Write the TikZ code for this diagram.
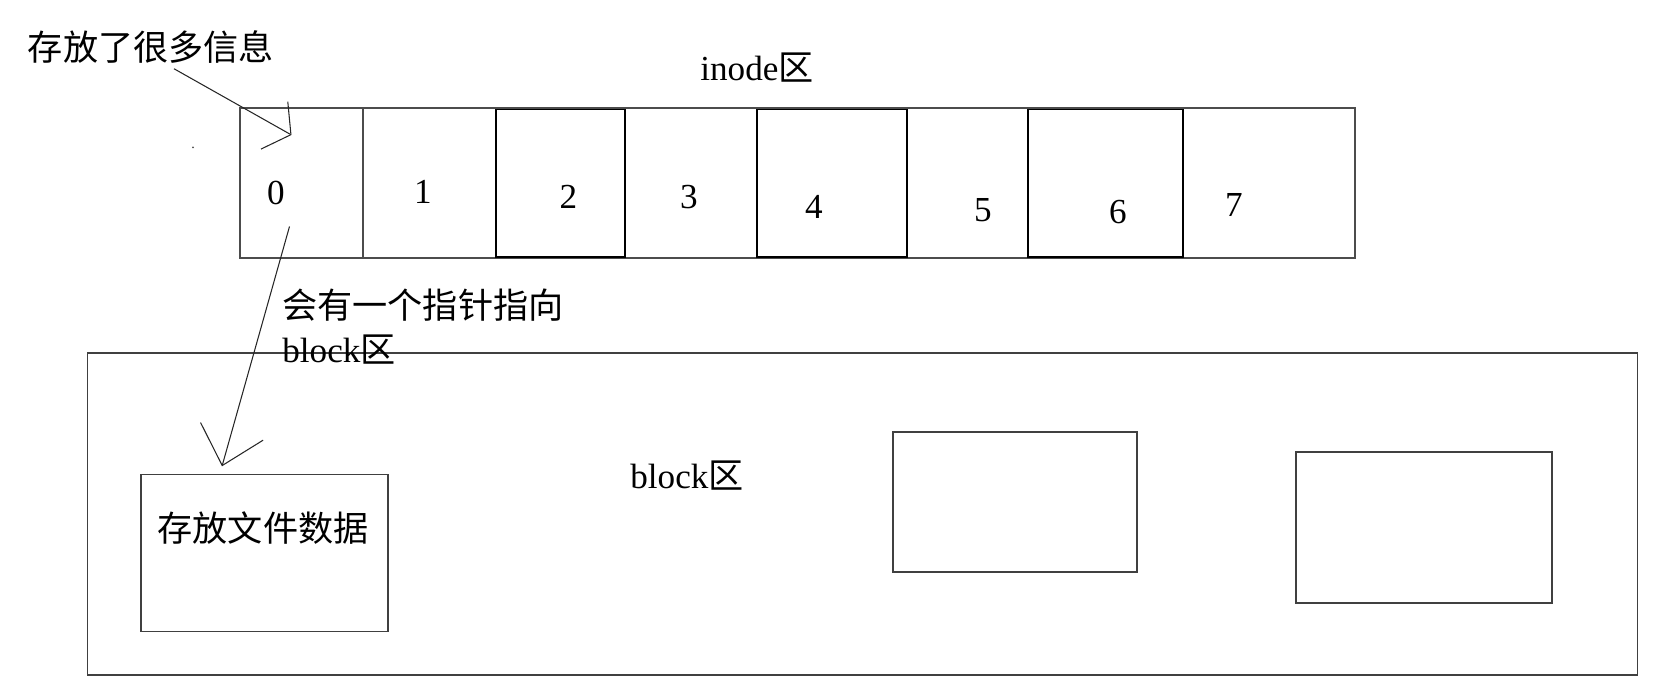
\documentclass[tikz,border=0pt]{standalone}
\usepackage{fontspec}
\setmainfont{Liberation Serif}
\newfontfamily\cjk{Noto Sans CJK SC}
\usetikzlibrary{arrows.meta}

\begin{document}
\begin{tikzpicture}[every node/.style={inner sep=0pt,font=\fontsize{20}{24}\selectfont},
    box/.style={draw=black!75,line width=0.8pt}]
    \useasboundingbox (0,0) rectangle (33.06,13.66);

    % inode row
    \begin{scope}[line width=0.8pt,color=black!70]
      \draw (4.80,8.50) rectangle (27.10,11.50);
      \foreach \x in {7.26,9.92,12.50,15.14,18.14,20.56,23.66}
        \draw (\x,8.50) -- (\x,11.50);
    \end{scope}
    \begin{scope}[line width=1pt,color=black]
      \draw (9.92,8.52) rectangle (12.50,11.47);
      \draw (15.14,8.52) rectangle (18.14,11.47);
      \draw (20.56,8.52) rectangle (23.66,11.47);
    \end{scope}

    \begin{scope}[every node/.style={inner sep=0pt,font=\fontsize{20}{24}\selectfont}]
      \foreach \n/\x/\y in {0/5.52/9.80, 1/8.46/9.82, 2/11.37/9.73, 3/13.78/9.72,
                            4/16.28/9.52, 5/19.66/9.46, 6/22.36/9.42, 7/24.68/9.56}
        \node (d\n) at (\x,\y) {\n};
    \end{scope}

    \node (inode) at (15.14,12.30) {inode{\cjk 区}};
    \node (info) at (3.02,12.72) {\cjk 存放了很多信息};
    \fill[black!70] (3.86,10.71) circle (0.02);

    % block area
    \node[box,minimum width=30.99cm,minimum height=6.44cm] (area) at (17.25,3.38) {};
    \node (blocklbl) at (13.74,4.14) {block{\cjk 区}};
    \node[box,minimum width=4.94cm,minimum height=3.14cm] (data) at (5.29,2.60) {};
    \node (datatext) at (5.26,3.10) {\cjk 存放文件数据};
    \node[box,minimum width=4.88cm,minimum height=2.80cm] (blockA) at (20.30,3.62) {};
    \node[box,minimum width=5.12cm,minimum height=3.02cm] (blockB) at (28.48,3.11) {};

    \node[anchor=west] (ptr) at (5.64,7.56) {\cjk 会有一个指针指向};
    \node[anchor=west] (ptrblock) at (5.64,6.66) {block{\cjk 区}};

    % pointers
    \coordinate (c0in) at (5.83,10.96);
    \coordinate (c0ptr) at (5.79,9.13);
    \begin{scope}[line width=0.6pt,color=black!85]
      \draw [-{Straight Barb[length=0.38cm,width=1.09cm]}]
        ([xshift=0.46cm,yshift=-0.1cm]info.south) -- (c0in);
      \draw [-{Straight Barb[length=0.71cm,width=1.30cm]}]
        (c0ptr) -- ([xshift=-0.85cm,yshift=0.15cm]data.north);
    \end{scope}
\end{tikzpicture}
\end{document}
